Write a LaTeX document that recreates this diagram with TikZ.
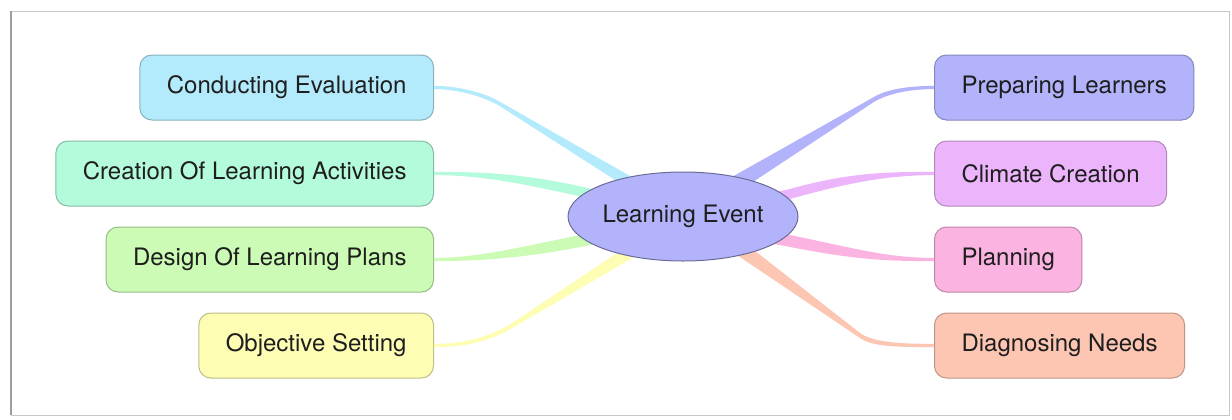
\documentclass[tikz,border=0pt]{standalone}
\usepackage{fontspec}
\setmainfont{TeX Gyre Heros}
\usetikzlibrary{calc,shapes.geometric}

\definecolor{cEval}{HTML}{B4EBFC}
\definecolor{cAct}{HTML}{B3FBDB}
\definecolor{cDesign}{HTML}{CBFBB4}
\definecolor{cObj}{HTML}{FDFDB4}
\definecolor{cPrep}{HTML}{B3B3FB}
\definecolor{cClim}{HTML}{ECB4FB}
\definecolor{cPlanning}{HTML}{FBB4E2}
\definecolor{cDiag}{HTML}{FDC6B3}
\definecolor{cCore}{HTML}{B3B3FB}
\definecolor{txt}{HTML}{1E1E1E}

% tapered branch: colour, box end, two controls, bend end, hub end,
% half thickness at box end, at bend, at hub
\newcommand{\taper}[9]{%
  \fill[#1] ($(#2)+(0,-#7)$) .. controls ($(#3)+(0,-#7)$) and ($(#4)+(0,-#8)$) ..
    ($(#5)+(0,-#8)$) -- ($(#6)+(0,-#9)$) -- ($(#6)+(0,#9)$) -- ($(#5)+(0,#8)$)
    .. controls ($(#4)+(0,#8)$) and ($(#3)+(0,#7)$) .. ($(#2)+(0,#7)$) -- cycle;}

\tikzset{
  topic/.style={rectangle, rounded corners=6pt, fill=#1, draw=#1!75!black,
    line width=0.5pt, minimum height=32.5pt, inner xsep=13.5pt, text=txt,
    font=\fontsize{12}{14}\selectfont},
  hub/.style={ellipse, fill=cCore, draw=cCore!60!black, line width=0.5pt,
    minimum width=115pt, minimum height=44.5pt, inner sep=0pt, text=txt,
    font=\fontsize{12}{14}\selectfont},
  frameline/.style={draw=black!22, line width=0.5pt}
}

\begin{document}
\begin{tikzpicture}[x=0.5pt, y=-0.5pt]
  \useasboundingbox (0,0) rectangle (1232,419);
  \fill[white] (0,0) rectangle (1232,419);

  % page frame
  \draw[frameline] (11,11) rectangle (1229,415);
  \draw[black!38, line width=1pt] (11,11) -- (11,415);

  % topics on the left
  \node[topic=cEval, anchor=east] (ce) at (434,87.5) {Conducting Evaluation};
  \node[topic=cAct, anchor=east] (ca) at (434,173.5) {Creation Of Learning Activities};
  \node[topic=cDesign, anchor=east] (dl) at (434,259.5) {Design Of Learning Plans};
  \node[topic=cObj, anchor=east] (os) at (434,345.5) {Objective Setting};

  % topics on the right
  \node[topic=cPrep, anchor=west] (pl) at (934,87.5) {Preparing Learners};
  \node[topic=cClim, anchor=west] (cc) at (934,173.5) {Climate Creation};
  \node[topic=cPlanning, anchor=west] (pn) at (934,259.5) {Planning};
  \node[topic=cDiag, anchor=west] (dn) at (934,345.5) {Diagnosing Needs};

  % branches, drawn before the hub so that it covers their wide ends
  \taper{cEval}{ce.east}{462,87.5}{488,96.7}{500,104}{665,204}{1.6}{2.2}{8}
  \taper{cAct}{ca.east}{480,173.5}{520,178}{583,192}{640,207}{1.6}{5}{7}
  \taper{cDesign}{dl.east}{480,259.5}{525,252}{585,240}{640,228}{1.6}{6}{8}
  \taper{cObj}{os.east}{470,345.5}{495,336.3}{513,325}{665,230}{1.6}{2.5}{9}

  \taper{cPrep}{pl.west}{905,87.5}{885,92.6}{873,100}{700,206}{1.6}{2.5}{11}
  \taper{cClim}{cc.west}{890,173.5}{850,177}{790,194}{735,208}{1.6}{5}{7}
  \taper{cPlanning}{pn.west}{885,259.5}{855,254}{780,239}{730,230}{1.6}{6}{8}
  \taper{cDiag}{dn.west}{895,345.5}{872,344}{860,335.5}{700,219}{1.6}{2.5}{11}

  % central hub
  \node[hub] (le) at (683,216.5) {Learning Event};
\end{tikzpicture}
\end{document}
